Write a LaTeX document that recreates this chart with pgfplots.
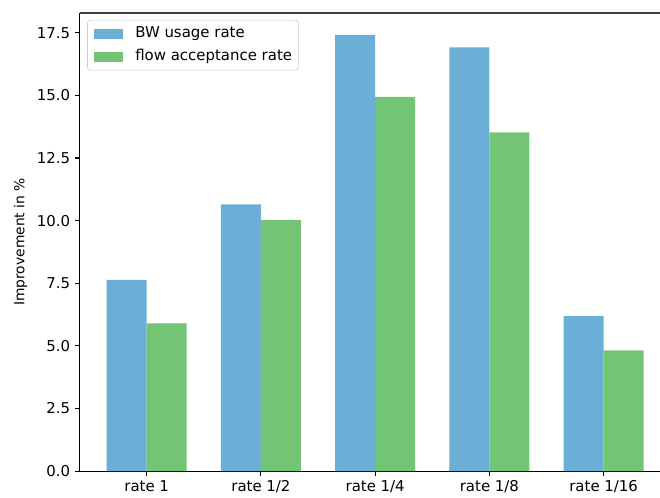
\documentclass[border=0pt]{standalone}
\usepackage{pgfplots}
\pgfplotsset{compat=1.18}
\usetikzlibrary{calc}
\usepackage{fontspec}
\setmainfont{DejaVu Sans}
\definecolor{bwblue}{RGB}{107,174,214}
\definecolor{flgreen}{RGB}{116,196,118}
\begin{document}
\begin{tikzpicture}
\begin{axis}[
  width=417.7bp, height=329.8bp, scale only axis,
  xmin=-0.585, xmax=4.493, ymin=0, ymax=18.29,
  axis lines*=left, axis line style={-, line width=0.8bp},
  tick align=outside, major tick length=3.5bp,
  tick style={line width=0.8bp, black},
  xtick={0,1,2,3,4},
  xticklabels={rate 1, rate 1/2, rate 1/4, rate 1/8, rate 1/16},
  ytick={0,2.5,5,7.5,10,12.5,15,17.5},
  yticklabel style={/pgf/number format/.cd, fixed, fixed zerofill, precision=1, assume math mode=true},
  ticklabel style={font=\fontsize{10.8}{13}\selectfont},
  ylabel={Improvement in \%},
  ylabel style={font=\fontsize{10.8}{13}\selectfont},
  every axis y label/.style={at={(ticklabel cs:0.5)}, rotate=90, anchor=south, yshift=0bp},
  bar width=28.79bp,
  clip=false,
  legend style={at={(0,1)}, anchor=north west, xshift=5.3bp, yshift=-5bp,
    draw=black!20, rounded corners=2bp, font=\fontsize{10.8}{13}\selectfont,
    inner xsep=4.5bp, inner ysep=4.5bp, row sep=6bp, column sep=9bp,
    nodes={inner sep=0pt, text height=8bp, text depth=2.5bp}},
  legend cell align=left,
  legend image code/.code={\fill[#1, sharp corners] (0bp,-3.6bp) rectangle (20.9bp,3.6bp);},
]
\addplot[ybar, fill=bwblue, draw=none, bar shift=-14.4bp] coordinates {(0,7.63) (1,10.65) (2,17.42) (3,16.92) (4,6.19)};
\addlegendentry{BW usage rate}
\addplot[ybar, fill=flgreen, draw=none, bar shift=14.4bp] coordinates {(0,5.90) (1,10.02) (2,14.94) (3,13.52) (4,4.82)};
\addlegendentry{flow acceptance rate}
\coordinate (bl) at (rel axis cs:0,0);
\coordinate (tr) at (rel axis cs:1,1);
\coordinate (tl) at (rel axis cs:0,1);
\draw[line width=0.8bp, black!75] (tl) -- (tr);
\end{axis}
\pgfresetboundingbox
\path[use as bounding box] ($(bl)+(-57.5bp,-18.72bp)$) rectangle ($(tr)+(0,9.36bp)$);
\end{tikzpicture}
\end{document}
